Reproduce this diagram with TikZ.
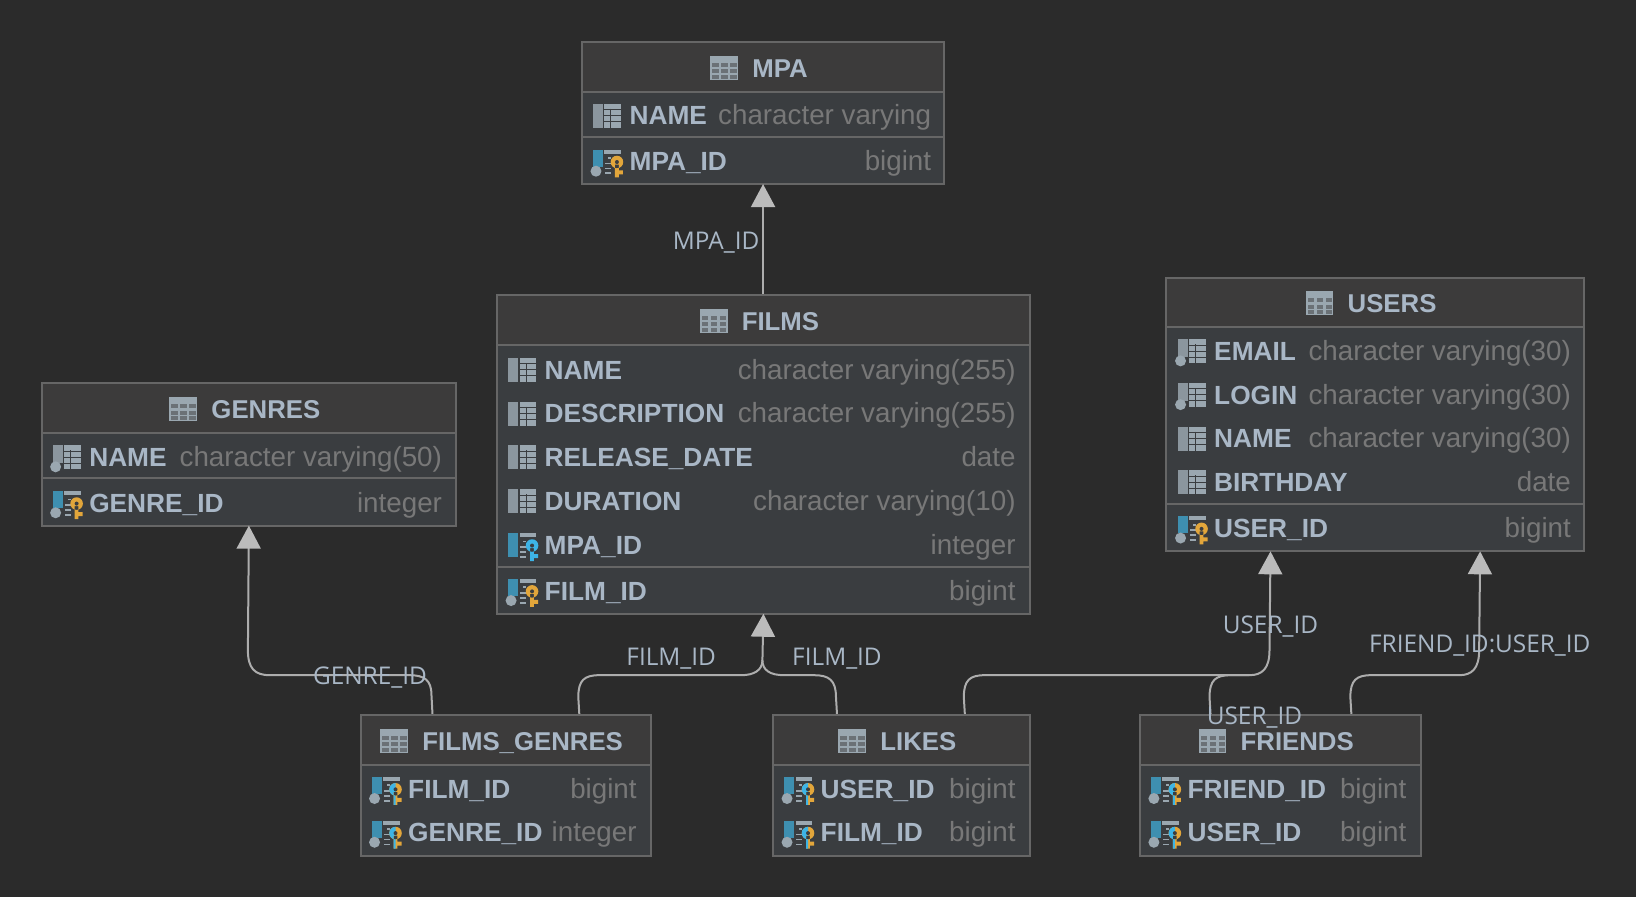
\documentclass[tikz,border=0pt]{standalone}
\usepackage{fontspec}
\setmainfont{Liberation Sans}
\newfontfamily\labelfont{Open Sans}
\usetikzlibrary{arrows.meta}
\definecolor{canvasbg}{HTML}{2B2B2B}
\definecolor{headbg}{HTML}{3C3B3B}
\definecolor{rowbg}{HTML}{3A3D40}
\definecolor{boxline}{HTML}{666666}
\definecolor{nametext}{HTML}{A9B7C6}
\definecolor{typetext}{HTML}{787878}
\definecolor{linkline}{HTML}{ADADAD}
\definecolor{tiptone}{HTML}{BBBBBB}
\definecolor{icongrey}{HTML}{9AA7B0}
\definecolor{iconblue}{HTML}{3E8FB0}
\definecolor{keygold}{HTML}{E2A63B}
\definecolor{keyblue}{HTML}{3DB4E6}
\newcommand{\colrow}[7]{
\pic at (#2+12,#4+1) {#5};
\node[colname] (#1 name) at (#2+48.5,#4+10.3) {#6};
\node[coltype] (#1 type) at (#3-13,#4+10.3) {#7};
}
\newcommand{\titlerow}[2]{
\node[titletext] (#1 title) at ([xshift=17pt,yshift=-10.5pt]#1 head) {#2};
\pic at ([xshift=-14pt,yshift=9.5pt]#1 title.base west) {tableicon};
}
\newcommand{\keyshape}{(24,0.5) circle (6.3) (22,3) rectangle (25.8,16) (25,9) rectangle (30,13)}
\begin{document}
\begin{tikzpicture}[x=1pt,y=-1pt]
\tikzset{tablebox/.style={draw=boxline, line width=2pt, fill=rowbg, anchor=north west, inner sep=0pt}}
\tikzset{headbox/.style={draw=boxline, line width=2pt, fill=headbg, anchor=north west, inner sep=0pt}}
\tikzset{titletext/.style={font=\fontsize{25.8}{30}\selectfont\bfseries, text=nametext, inner sep=0pt, anchor=base}}
\tikzset{colname/.style={font=\fontsize{26.3}{30}\selectfont\bfseries, text=nametext, inner sep=0pt, anchor=base west}}
\tikzset{coltype/.style={font=\fontsize{27.8}{30}\selectfont, text=typetext, inner sep=0pt, anchor=base east}}
\tikzset{linklabel/.style={font=\labelfont\fontsize{24.4}{28}\selectfont, text=nametext, inner sep=0pt}}
\tikzset{fklink/.style={draw=linkline, line width=2pt, -{Triangle[length=23pt,width=24pt,color=tiptone]}}}
\tikzset{joinlink/.style={draw=linkline, line width=2pt}}
\tikzset{sepline/.style={draw=boxline, line width=2pt}}
\tikzset{tableicon/.pic={
  \fill[icongrey] (-28,-12) rectangle (0,12);
  \foreach \cy in {-5,1.5,7} \foreach \cx in {-26,-17,-8} \fill[icongrey!50!headbg] (\cx,\cy) rectangle +(6.5,4);
}}
\tikzset{gridicon/.pic={
  \fill[icongrey] (11.5,-12) rectangle (28,12);
  \foreach \cy in {-6,0,6} \draw[rowbg, line width=1pt] (11.5,\cy) -- (28,\cy);
  \draw[rowbg, line width=1pt] (18,-7) -- (18,12);
}}
\tikzset{colicon/.pic={
  \fill[icongrey!90!black] (0,-12) rectangle (10,12);
  \pic {gridicon};
}}
\tikzset{dotcolicon/.pic={
  \fill[icongrey!90!black] (0,-12) rectangle (10,6);
  \fill[icongrey] (3,9.7) circle (5.5);
  \pic {gridicon};
}}
\tikzset{stubicon/.pic={
  \fill[icongrey] (11.5,-12) rectangle (28,-8);
  \foreach \cy/\cx in {-4.5/15,1/12,6/12,11/12} \fill[icongrey] (\cx,\cy) rectangle (18,\cy+1.8);
}}
\tikzset{pkicon/.pic={
  \fill[iconblue] (0,-12) rectangle (10,5);
  \fill[icongrey] (3,9.7) circle (5.5);
  \pic {stubicon};
  \fill[keygold] \keyshape;
  \fill[rowbg] (24,0.5) circle (2);
}}
\tikzset{fkicon/.pic={
  \fill[iconblue] (0,-12) rectangle (10,12);
  \pic {stubicon};
  \fill[keyblue] \keyshape;
  \fill[rowbg] (24,0.5) circle (2);
}}
\tikzset{pfkicon/.pic={
  \fill[iconblue] (0,-12) rectangle (10,5);
  \fill[icongrey] (3,9.7) circle (5.5);
  \pic {stubicon};
  \fill[keygold] \keyshape;
  \begin{scope}
  \clip (16,-8) rectangle (24,18);
  \fill[keyblue] \keyshape;
  \end{scope}
  \fill[rowbg] (24,0.5) circle (2);
}}

\fill[canvasbg] (0,0) rectangle (1638,898);
\useasboundingbox (1,1) rectangle (1637,897);

% tables
\node[tablebox, minimum width=362.6pt, minimum height=142.6pt] (mpa) at (581.7,40.7) {};
\node[tablebox, minimum width=533.3pt, minimum height=319.3pt] (films) at (496.7,294.2) {};
\node[tablebox, minimum width=418.5pt, minimum height=274pt] (users) at (1166.5,277) {};
\node[tablebox, minimum width=415pt, minimum height=142.6pt] (genres) at (40.7,382.7) {};
\node[tablebox, minimum width=290.6pt, minimum height=141.3pt] (filmsgenres) at (360,714.7) {};
\node[tablebox, minimum width=257pt, minimum height=141.3pt] (likes) at (773,714.7) {};
\node[tablebox, minimum width=281pt, minimum height=141.3pt] (friends) at (1140.3,714.7) {};

\node[headbox, minimum width=362.6pt, minimum height=50.3pt] (mpa head) at (581.7,40.7) {};
\node[headbox, minimum width=533.3pt, minimum height=50.1pt] (films head) at (496.7,294.2) {};
\node[headbox, minimum width=418.5pt, minimum height=49.6pt] (users head) at (1166.5,277) {};
\node[headbox, minimum width=415pt, minimum height=49.6pt] (genres head) at (40.7,382.7) {};
\node[headbox, minimum width=290.6pt, minimum height=50.1pt] (filmsgenres head) at (360,714.7) {};
\node[headbox, minimum width=257pt, minimum height=50.1pt] (likes head) at (773,714.7) {};
\node[headbox, minimum width=281pt, minimum height=50.1pt] (friends head) at (1140.3,714.7) {};

\titlerow{mpa}{MPA}
\titlerow{films}{FILMS}
\titlerow{users}{USERS}
\titlerow{genres}{GENRES}
\titlerow{filmsgenres}{FILMS\_GENRES}
\titlerow{likes}{LIKES}
\titlerow{friends}{FRIENDS}

% separators above the key rows
\draw[sepline] (mpa.west |- 0,136.7) -- (mpa.east |- 0,136.7);
\draw[sepline] (films.west |- 0,567.6) -- (films.east |- 0,567.6);
\draw[sepline] (users.west |- 0,505) -- (users.east |- 0,505);
\draw[sepline] (genres.west |- 0,478.7) -- (genres.east |- 0,478.7);

% columns
\colrow{mpa n}{581.7}{945.5}{114.8}{colicon}{NAME}{character varying}
\colrow{mpa k}{581.7}{945.5}{160.7}{pkicon}{MPA\_ID}{bigint}
\colrow{films n}{496.7}{1030}{369.4}{colicon}{NAME}{character varying(255)}
\colrow{films d}{496.7}{1030}{413.2}{colicon}{DESCRIPTION}{character varying(255)}
\colrow{films r}{496.7}{1030}{457}{colicon}{RELEASE\_DATE}{date}
\colrow{films u}{496.7}{1030}{500.8}{colicon}{DURATION}{character varying(10)}
\colrow{films m}{496.7}{1030}{544.7}{fkicon}{MPA\_ID}{integer}
\colrow{films k}{496.7}{1030}{590.6}{pkicon}{FILM\_ID}{bigint}
\colrow{users e}{1167}{1586}{350.6}{dotcolicon}{EMAIL}{character varying(30)}
\colrow{users l}{1167}{1586}{394.4}{dotcolicon}{LOGIN}{character varying(30)}
\colrow{users n}{1167}{1586}{438.2}{colicon}{NAME}{character varying(30)}
\colrow{users b}{1167}{1586}{482}{colicon}{BIRTHDAY}{date}
\colrow{users k}{1167}{1586}{528}{pkicon}{USER\_ID}{bigint}
\colrow{genres n}{40.7}{455.7}{456.7}{dotcolicon}{NAME}{character varying(50)}
\colrow{genres k}{40.7}{455.7}{502.7}{pkicon}{GENRE\_ID}{integer}
\colrow{fg f}{360}{650.6}{788.8}{pfkicon}{FILM\_ID}{bigint}
\colrow{fg g}{360}{650.6}{832.6}{pfkicon}{GENRE\_ID}{integer}
\colrow{likes u}{773}{1030}{788.8}{pfkicon}{USER\_ID}{bigint}
\colrow{likes f}{773}{1030}{832.6}{pfkicon}{FILM\_ID}{bigint}
\colrow{friends f}{1140.3}{1421.3}{788.8}{pfkicon}{FRIEND\_ID}{bigint}
\colrow{friends u}{1140.3}{1421.3}{832.6}{pfkicon}{USER\_ID}{bigint}

% connectors
\draw[fklink] (mpa.south |- films.north) -- ([yshift=1pt]mpa.south);
\draw[fklink] ([xshift=-73.3pt]filmsgenres.north) -- (432,696) .. controls (432,681) and (425,676) .. (410,676) -- (270,676) .. controls (255,676) and (248.2,669) .. (248.2,651) -- ([yshift=1pt]genres.south);
\draw[joinlink] ([xshift=73.7pt]filmsgenres.north) -- (579,698) .. controls (579,681) and (585,676) .. (600,676) -- (742,676) .. controls (755,676) and (763.35,671) .. (763.35,661);
\draw[fklink] ([xshift=-64.5pt]likes.north) -- (837,698) .. controls (837,681) and (830,676) .. (815,676) -- (785,676) .. controls (771,676) and (763.35,671) .. (763.35,661) -- ([yshift=1pt]films.south);
\draw[fklink] ([xshift=63.5pt]likes.north) -- (965,698) .. controls (965,681) and (971,676) .. (986,676) -- (1251,676) .. controls (1264,676) and (1271.05,669) .. (1271.05,651) -- ([xshift=-104.7pt,yshift=1pt]users.south);
\draw[joinlink] ([xshift=-69.8pt]friends.north) -- (1211,698) .. controls (1211,681) and (1217,676) .. (1232,676) -- (1251,676);
\draw[fklink] ([xshift=71.2pt]friends.north) -- (1352,698) .. controls (1352,681) and (1358,676) .. (1373,676) -- (1461,676) .. controls (1474,676) and (1480.95,669) .. (1480.95,651) -- ([xshift=105.2pt,yshift=1pt]users.south);

% link labels
\node[linklabel] (mpa link) at (717,242.5) {MPA\_ID};
\node[linklabel] (genre link) at (370.4,678.5) {GENRE\_ID};
\node[linklabel] (film link a) at (672,659.5) {FILM\_ID};
\node[linklabel] (film link b) at (838,659.5) {FILM\_ID};
\node[linklabel] (user link a) at (1272,627.5) {USER\_ID};
\node[linklabel] (user link b) at (1256,718.2) {USER\_ID};
\node[linklabel] (friend link) at (1481.6,646.2) {FRIEND\_ID:USER\_ID};
\end{tikzpicture}
\end{document}
